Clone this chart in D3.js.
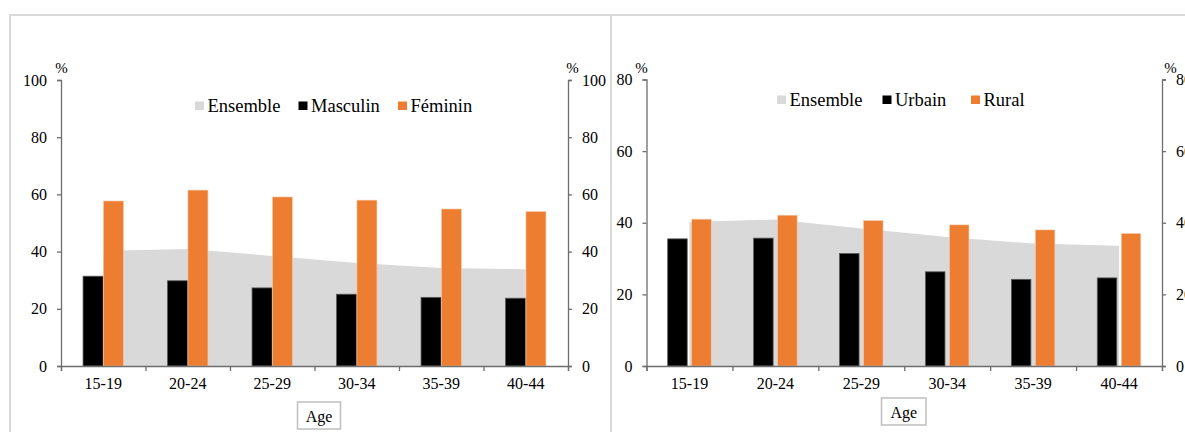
<!DOCTYPE html>
<html>
<head>
<meta charset="utf-8">
<script src="https://cdn.jsdelivr.net/npm/d3@7"></script>
<style>
  html, body { margin: 0; padding: 0; background: #fff; overflow: hidden; }
  svg { display: block; font-family: "Liberation Serif", "Times New Roman", serif; }
</style>
</head>
<body>
<svg id="chart" width="1185" height="432"></svg>
<script>
// Age groups shared by both panels
const ageGroups = ["15-19", "20-24", "25-29", "30-34", "35-39", "40-44"];

// Panel 1: by sex (%)
const sexEnsemble = [40.3, 40.9, 38.5, 36.0, 34.3, 33.8];
const sexMasculin = [31.4, 29.8, 27.3, 25.1, 24.0, 23.7];
const sexFeminin  = [57.7, 61.5, 59.1, 58.0, 54.9, 54.0];
const sexLegend   = ["Ensemble", "Masculin", "Féminin"];
const sexTicks    = [0, 20, 40, 60, 80, 100];

// Panel 2: by place of residence (%)
const residEnsemble = [40.2, 40.9, 38.4, 36.0, 34.2, 33.6];
const residUrbain   = [35.5, 35.7, 31.4, 26.3, 24.2, 24.6];
const residRural    = [41.0, 42.1, 40.6, 39.4, 38.0, 37.0];
const residLegend   = ["Ensemble", "Urbain", "Rural"];
const residTicks    = [0, 20, 40, 60, 80];

const axisTitle = "%";
const xTitle = "Age";

const colors = { ensemble: "#D9D9D9", dark: "#000000", orange: "#ED7D31" };

const svg = d3.select("#chart");

// panel frames
svg.append("rect").attr("x", 10).attr("y", 15).attr("width", 601).attr("height", 440)
  .attr("fill", "none").attr("stroke", "#D9D9D9").attr("stroke-width", 2);
svg.append("rect").attr("x", 611).attr("y", 15).attr("width", 620).attr("height", 440)
  .attr("fill", "none").attr("stroke", "#D9D9D9").attr("stroke-width", 2);

function drawPanel(cfg) {
  const g = svg.append("g");
  const x = d3.scaleBand().domain(ageGroups).range([cfg.x0, cfg.x1]).padding(0);
  const yLeft = d3.scaleLinear().domain([0, cfg.ticks[cfg.ticks.length - 1]]).range([cfg.yBottom, cfg.yTop]);
  const yRight = yLeft.copy();
  const cx = d => x(d) + x.bandwidth() / 2;

  // Ensemble as area on the secondary axis
  const area = d3.area()
    .x((d, i) => cx(ageGroups[i]))
    .y0(yRight(0))
    .y1(d => yRight(d));
  g.append("path").datum(cfg.ensemble).attr("d", area).attr("fill", colors.ensemble);

  // clustered bars
  const half = cfg.barGap / 2;
  g.selectAll(".b1").data(cfg.series1).join("rect")
    .attr("x", (d, i) => cx(ageGroups[i]) - half - cfg.barW)
    .attr("width", cfg.barW)
    .attr("y", d => yLeft(d))
    .attr("height", d => yLeft(0) - yLeft(d))
    .attr("fill", colors.dark)
    .attr("stroke", "#595959").attr("stroke-width", 0.8);
  g.selectAll(".b2").data(cfg.series2).join("rect")
    .attr("x", (d, i) => cx(ageGroups[i]) + half)
    .attr("width", cfg.barW)
    .attr("y", d => yLeft(d))
    .attr("height", d => yLeft(0) - yLeft(d))
    .attr("fill", colors.orange)
    .attr("stroke", "#F8CBAD").attr("stroke-width", 0.6);

  const axisColor = "#6E6E6E";
  const styleAxis = sel => {
    sel.select(".domain").attr("stroke", axisColor).attr("stroke-width", 1.3);
    sel.selectAll(".tick line").attr("stroke", axisColor).attr("stroke-width", 1.3);
    sel.selectAll("text").attr("fill", "#000").attr("font-size", 16)
      .attr("font-family", "Liberation Serif, Times New Roman, serif");
  };

  // y axes
  g.append("g").attr("transform", `translate(${cfg.x0},0)`)
    .call(d3.axisLeft(yLeft).tickValues(cfg.ticks).tickSize(4).tickPadding(10).tickSizeOuter(4))
    .call(styleAxis);
  g.append("g").attr("transform", `translate(${cfg.x1},0)`)
    .call(d3.axisRight(yRight).tickValues(cfg.ticks).tickSize(4).tickPadding(10).tickSizeOuter(4))
    .call(styleAxis);

  // x axis: tick marks on category boundaries, labels centred
  const xb = d3.scaleLinear().domain([0, ageGroups.length]).range([cfg.x0, cfg.x1]);
  g.append("g").attr("transform", `translate(0,${cfg.yBottom})`)
    .call(d3.axisBottom(xb).tickValues(d3.range(ageGroups.length + 1)).tickSize(5).tickFormat(""))
    .call(styleAxis);
  g.append("g").attr("transform", `translate(0,${cfg.yBottom})`)
    .call(d3.axisBottom(x).tickSize(0).tickPadding(12))
    .call(sel => sel.select(".domain").remove())
    .call(styleAxis);

  // "%" titles above both y axes
  g.append("text").attr("x", cfg.x0 + cfg.pctOffset[0]).attr("y", cfg.yTop - 7)
    .attr("text-anchor", "middle").attr("font-size", 15).text(axisTitle);
  g.append("text").attr("x", cfg.x1 + cfg.pctOffset[1]).attr("y", cfg.yTop - 7)
    .attr("text-anchor", "middle").attr("font-size", 15).text(axisTitle);

  // legend
  const legendColors = [colors.ensemble, colors.dark, colors.orange];
  cfg.legend.forEach((name, i) => {
    const lx = cfg.legendX[i];
    g.append("rect").attr("x", lx).attr("y", cfg.legendBase - 10.5).attr("width", 9).attr("height", 8.5)
      .attr("fill", legendColors[i]);
    g.append("text").attr("x", lx + 12.5).attr("y", cfg.legendBase)
      .attr("font-size", 18.5).text(name);
  });

  // "Age" box
  const bx = cfg.ageBox;
  g.append("rect").attr("x", bx.x).attr("y", bx.y).attr("width", bx.w).attr("height", bx.h)
    .attr("fill", "#fff").attr("stroke", "#BFBFBF").attr("stroke-width", 1.5);
  g.append("text").attr("x", bx.x + bx.w / 2).attr("y", bx.y + bx.h - 7)
    .attr("text-anchor", "middle").attr("font-size", 16).text(xTitle);
}

drawPanel({
  x0: 61, x1: 568, yTop: 80, yBottom: 366, ticks: sexTicks,
  ensemble: sexEnsemble, series1: sexMasculin, series2: sexFeminin,
  barW: 20, barGap: 0.4,
  legend: sexLegend, legendX: [195, 298.5, 398], legendBase: 112,
  pctOffset: [0.5, 4.5],
  ageBox: { x: 297.5, y: 402, w: 43, h: 27 }
});

drawPanel({
  x0: 646.5, x1: 1162, yTop: 79.5, yBottom: 366, ticks: residTicks,
  ensemble: residEnsemble, series1: residUrbain, series2: residRural,
  barW: 19.5, barGap: 4.5,
  legend: residLegend, legendX: [777, 882.5, 971], legendBase: 106,
  pctOffset: [-5, 8.5],
  ageBox: { x: 881.5, y: 398, w: 44.5, h: 27 }
});
</script>
</body>
</html>
